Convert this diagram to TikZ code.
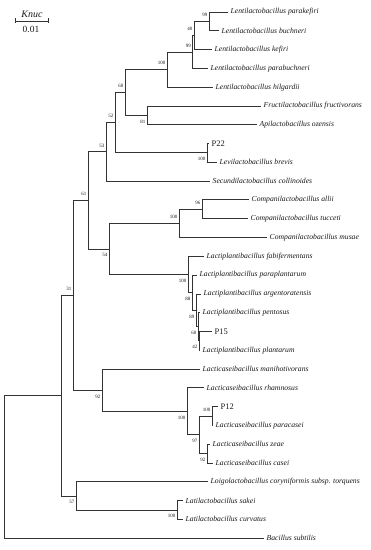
\documentclass[tikz,border=0pt]{standalone}
\usepackage{fontspec}
\setmainfont{Liberation Serif}
\usepackage{tikz}

\begin{document}
\begin{tikzpicture}[x=1bp, y=-1bp, every node/.style={font=\fontsize{7.7}{8}\selectfont\itshape, text=black!90},
    leaf/.style={anchor=west, inner xsep=2.5bp, inner ysep=0pt},
    strain/.style={leaf, font=\fontsize{8.5}{9}\selectfont},
    bup/.style={anchor=south east, inner sep=0pt, xshift=-1.5bp, yshift=4.5bp, font=\fontsize{5}{5}\selectfont},
    bdn/.style={anchor=north east, inner sep=0pt, xshift=-1.5bp, yshift=-4.5bp, font=\fontsize{5}{5}\selectfont},
    br/.style={draw=black!80, line width=0.8bp}]
        \useasboundingbox (0,0) rectangle (370,550);
        % scale bar
        \node (knuc) at (32,14) {\fontsize{10}{10}\selectfont Knuc};
        \coordinate (sa) at (15,21);
        \coordinate (sb) at (48,21);
        \node[font=\fontsize{9.5}{10}\selectfont] (dist) at (31,29) {0.01};
        \draw[br] (sa) -- (sb);
        \draw[br] ([yshift=2.5bp]sa) -- ([yshift=-2.5bp]sa);
        \draw[br] ([yshift=2.5bp]sb) -- ([yshift=-2.5bp]sb);
        % leaves
        \node[leaf] (parakef) at (228,12.0) {Lentilactobacillus parakefiri};
        \node[leaf] (buch) at (219,30.8) {Lentilactobacillus buchneri};
        \node[leaf] (kef) at (212,49.6) {Lentilactobacillus kefiri};
        \node[leaf] (parabuch) at (208,68.4) {Lentilactobacillus parabuchneri};
        \node[leaf] (hilg) at (213,87.2) {Lentilactobacillus hilgardii};
        \node[leaf] (fruct) at (261,106.0) {Fructilactobacillus fructivorans};
        \node[leaf] (ozen) at (257,124.7) {Apilactobacillus ozensis};
        \node[strain] (p22) at (209,143.5) {P22};
        \node[leaf] (brev) at (217,162.3) {Levilactobacillus brevis};
        \node[leaf] (coll) at (210,181.1) {Secundilactobacillus collinoides};
        \node[leaf] (allii) at (249,199.9) {Companilactobacillus allii};
        \node[leaf] (tucc) at (248,218.7) {Companilactobacillus tucceti};
        \node[leaf] (musae) at (267,237.5) {Companilactobacillus musae};
        \node[leaf] (fabi) at (204,256.3) {Lactiplantibacillus fabifermentans};
        \node[leaf] (parapl) at (197,275.1) {Lactiplantibacillus paraplantarum};
        \node[leaf] (argen) at (201,293.9) {Lactiplantibacillus argentoratensis};
        \node[leaf] (pent) at (200,312.6) {Lactiplantibacillus pentosus};
        \node[strain] (p15) at (212,331.4) {P15};
        \node[leaf] (plant) at (200,350.2) {Lactiplantibacillus plantarum};
        \node[leaf] (mani) at (200,369.0) {Lacticaseibacillus manihotivorans};
        \node[leaf] (rham) at (204,387.8) {Lacticaseibacillus rhamnosus};
        \node[strain] (p12) at (218,406.6) {P12};
        \node[leaf] (parac) at (213,425.4) {Lacticaseibacillus paracasei};
        \node[leaf] (zeae) at (210,444.2) {Lacticaseibacillus zeae};
        \node[leaf] (casei) at (213,463.0) {Lacticaseibacillus casei};
        \node[leaf] (cory) at (208,481.8) {Loigolactobacillus coryniformis subsp. torquens};
        \node[leaf] (sakei) at (183,500.5) {Latilactobacillus sakei};
        \node[leaf] (curv) at (183,519.3) {Latilactobacillus curvatus};
        \node[leaf] (subt) at (264,538.1) {Bacillus subtilis};
        % inner nodes
        \coordinate (n1) at (209,21.4);
        \coordinate (n2) at (194,35.5);
        \coordinate (n3) at (192.5,52.0);
        \coordinate (n4) at (167,69.7);
        \coordinate (n5) at (147,115.4);
        \coordinate (n6) at (125,92.5);
        \coordinate (n7) at (207,152.9);
        \coordinate (n8) at (115,122.7);
        \coordinate (n9) at (106,151.9);
        \coordinate (n10) at (202,209.3);
        \coordinate (n11) at (179,223.4);
        \coordinate (n12) at (199,340.8);
        \coordinate (n13) at (198,326.7);
        \coordinate (n14) at (196,310.3);
        \coordinate (n15) at (192,292.7);
        \coordinate (n16) at (188,274.5);
        \coordinate (n17) at (109,249.0);
        \coordinate (n18) at (88,200.4);
        \coordinate (n19) at (212,416.0);
        \coordinate (n20) at (207,453.6);
        \coordinate (n21) at (199,434.8);
        \coordinate (n22) at (187,411.3);
        \coordinate (n23) at (102,390.2);
        \coordinate (n24) at (73,295.3);
        \coordinate (n25) at (177,509.9);
        \coordinate (n26) at (76,495.9);
        \coordinate (n27) at (61,395.6);
        \coordinate (n28) at (4,466.8);
        % bootstrap values
        \node[bup] (b1) at (n1) {99};
        \node[bup] (b2) at (n2) {40};
        \node[bup] (b3) at (n3) {99};
        \node[bup] (b4) at (n4) {100};
        \node[bdn] (b5) at (n5) {81};
        \node[bup] (b6) at (n6) {60};
        \node[bdn] (b7) at (n7) {100};
        \node[bup] (b8) at (n8) {52};
        \node[bup] (b9) at (n9) {53};
        \node[bup] (b10) at (n10) {96};
        \node[bup] (b11) at (n11) {100};
        \node[bdn] (b12) at (n12) {42};
        \node[bdn] (b13) at (n13) {60};
        \node[bdn] (b14) at (n14) {89};
        \node[bdn] (b15) at (n15) {88};
        \node[bdn] (b16) at (n16) {100};
        \node[bdn] (b17) at (n17) {54};
        \node[bup] (b18) at (n18) {61};
        \node[bup] (b19) at (n19) {100};
        \node[bdn] (b20) at (n20) {92};
        \node[bdn] (b21) at (n21) {97};
        \node[bdn] (b22) at (n22) {100};
        \node[bdn] (b23) at (n23) {92};
        \node[bup] (b24) at (n24) {31};
        \node[bdn] (b25) at (n25) {100};
        \node[bdn] (b26) at (n26) {57};
        % branches
        \draw[br] (n1) |- (parakef) (n1) |- (buch);
        \draw[br] (n2) |- (n1) (n2) |- (kef);
        \draw[br] (n3) |- (n2) (n3) |- (parabuch);
        \draw[br] (n4) |- (n3) (n4) |- (hilg);
        \draw[br] (n5) |- (fruct) (n5) |- (ozen);
        \draw[br] (n6) |- (n4) (n6) |- (n5);
        \draw[br] (n7) |- (p22) (n7) |- (brev);
        \draw[br] (n8) |- (n6) (n8) |- (n7);
        \draw[br] (n9) |- (n8) (n9) |- (coll);
        \draw[br] (n10) |- (allii) (n10) |- (tucc);
        \draw[br] (n11) |- (n10) (n11) |- (musae);
        \draw[br] (n12) |- (p15) (n12) |- (plant);
        \draw[br] (n13) |- (pent) (n13) |- (n12);
        \draw[br] (n14) |- (argen) (n14) |- (n13);
        \draw[br] (n15) |- (parapl) (n15) |- (n14);
        \draw[br] (n16) |- (fabi) (n16) |- (n15);
        \draw[br] (n17) |- (n11) (n17) |- (n16);
        \draw[br] (n18) |- (n9) (n18) |- (n17);
        \draw[br] (n19) |- (p12) (n19) |- (parac);
        \draw[br] (n20) |- (zeae) (n20) |- (casei);
        \draw[br] (n21) |- (n19) (n21) |- (n20);
        \draw[br] (n22) |- (rham) (n22) |- (n21);
        \draw[br] (n23) |- (mani) (n23) |- (n22);
        \draw[br] (n24) |- (n18) (n24) |- (n23);
        \draw[br] (n25) |- (sakei) (n25) |- (curv);
        \draw[br] (n26) |- (cory) (n26) |- (n25);
        \draw[br] (n27) |- (n24) (n27) |- (n26);
        \draw[br] (n28) |- (n27) (n28) |- (subt);
    \end{tikzpicture}
\end{document}
